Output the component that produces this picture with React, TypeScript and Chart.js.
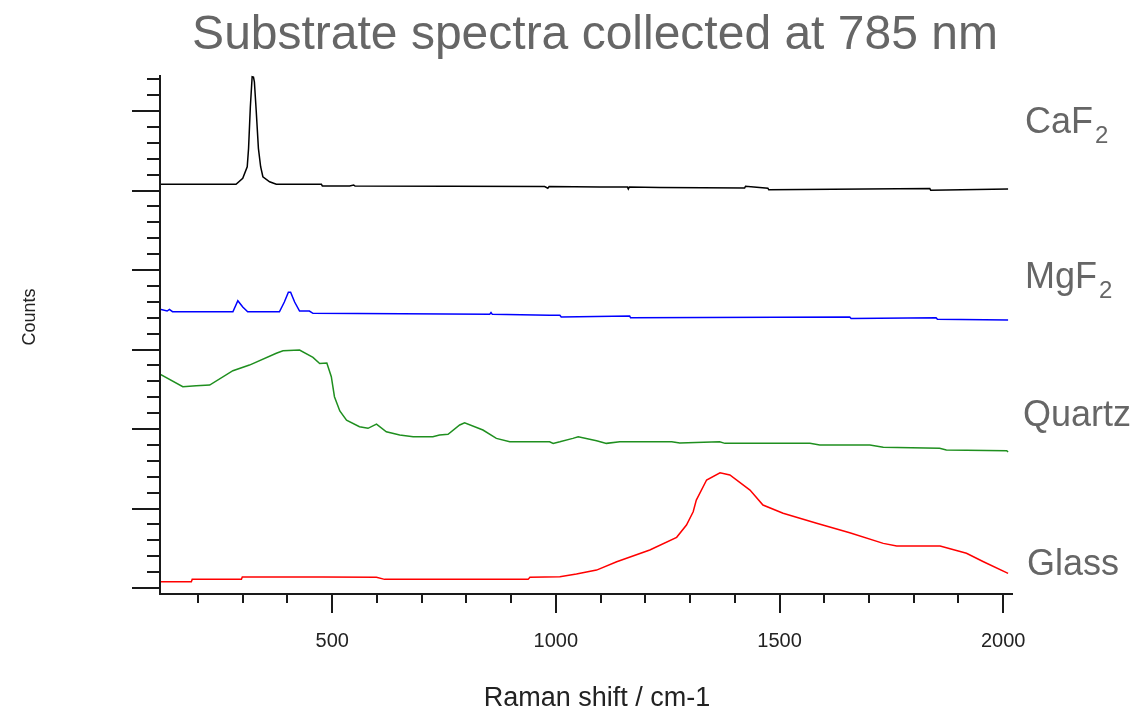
import React, { useEffect, useRef } from "react";
import { Chart, registerables } from "chart.js";

Chart.register(...registerables);

// Raman shift (cm-1) and counts (arbitrary, offset-stacked) per substrate
const caf2X = [115, 285, 300, 310, 313, 317, 321, 324, 326, 330, 335, 340, 345, 360, 375, 476, 478, 539, 548, 551, 975, 982, 985, 1098, 1160, 1162, 1164, 1232, 1422, 1424, 1474, 1476, 1836, 1838, 2011];
const caf2Y = [5079, 5079, 5154, 5300, 5531, 6055, 6432, 6428, 6369, 6013, 5531, 5300, 5174, 5111, 5079, 5079, 5057, 5057, 5070, 5057, 5051, 5030, 5051, 5044, 5044, 5020, 5044, 5038, 5032, 5055, 5030, 5010, 5025, 5005, 5019];

const mgf2X = [115, 131, 136, 143, 278, 289, 300, 311, 382, 393, 402, 407, 416, 427, 449, 457, 852, 855, 858, 986, 1009, 1012, 1165, 1167, 1657, 1660, 1850, 1853, 2011];
const mgf2Y = [3506, 3485, 3504, 3476, 3476, 3614, 3535, 3476, 3476, 3598, 3720, 3720, 3598, 3485, 3485, 3456, 3443, 3465, 3443, 3431, 3431, 3410, 3422, 3400, 3409, 3390, 3400, 3380, 3371];

const quartzX = [115, 166, 196, 226, 278, 315, 375, 390, 427, 457, 472, 488, 498, 505, 517, 532, 561, 580, 599, 621, 651, 681, 725, 740, 759, 785, 796, 837, 867, 897, 986, 994, 1009, 1038, 1050, 1091, 1113, 1143, 1259, 1277, 1366, 1378, 1568, 1590, 1702, 1732, 1858, 1873, 2008, 2011];
const quartzY = [2692, 2532, 2545, 2554, 2734, 2805, 2953, 2985, 2994, 2902, 2824, 2830, 2658, 2407, 2227, 2113, 2029, 2009, 2063, 1966, 1925, 1903, 1903, 1925, 1934, 2051, 2079, 1988, 1883, 1840, 1840, 1820, 1840, 1883, 1903, 1853, 1820, 1840, 1840, 1824, 1840, 1820, 1820, 1799, 1799, 1770, 1757, 1736, 1727, 1711];

const glassX = [115, 185, 187, 297, 299, 479, 599, 617, 938, 942, 1009, 1046, 1091, 1136, 1210, 1270, 1292, 1307, 1314, 1337, 1367, 1389, 1434, 1463, 1508, 1583, 1657, 1732, 1762, 1859, 1918, 1956, 2011];
const glassY = [79, 79, 109, 109, 138, 138, 135, 109, 109, 135, 142, 176, 226, 331, 478, 638, 793, 960, 1107, 1359, 1450, 1422, 1233, 1044, 940, 814, 696, 562, 528, 528, 437, 331, 185];

const seriesNames = ["CaF", "MgF", "Quartz", "Glass"];
const seriesSubs = ["2", "2", "", ""];
const seriesColors = ["#000000", "#0000ff", "#1f8f1f", "#ff0000"];

const xMajorTicks = [500, 1000, 1500, 2000];
const xMinorStep = 100;
const yMajorStep = 1000;
const yMinorStep = 200;

const titleText = "Substrate spectra collected at 785 nm";
const xTitle = "Raman shift / cm-1";
const yTitle = "Counts";

const FONT = "'Liberation Sans', Arial, sans-serif";

const toPoints = (xs: number[], ys: number[]) => xs.map((x, i) => ({ x, y: ys[i] }));

const decorPlugin = {
  id: "decor",
  afterDraw(chart: any) {
    const { ctx, chartArea: a, scales } = chart;
    const xs = scales.x;
    const ys = scales.y;
    ctx.save();
    ctx.strokeStyle = "#1a1a1a";
    ctx.lineWidth = 2;
    ctx.beginPath();
    ctx.moveTo(a.left, a.top);
    ctx.lineTo(a.left, a.bottom);
    ctx.lineTo(a.right, a.bottom);
    for (let v = Math.ceil(xs.min / xMinorStep) * xMinorStep; v <= xs.max; v += xMinorStep) {
      const px = Math.round(xs.getPixelForValue(v));
      const major = xMajorTicks.includes(v);
      ctx.moveTo(px, a.bottom);
      ctx.lineTo(px, a.bottom + (major ? 19 : 9));
    }
    for (let v = Math.ceil(ys.min / yMinorStep) * yMinorStep; v <= ys.max; v += yMinorStep) {
      const py = Math.round(ys.getPixelForValue(v));
      const major = v % yMajorStep === 0;
      ctx.moveTo(a.left, py);
      ctx.lineTo(a.left - (major ? 28 : 13), py);
    }
    ctx.stroke();

    ctx.fillStyle = "#222";
    ctx.font = `20px ${FONT}`;
    ctx.textAlign = "center";
    ctx.textBaseline = "alphabetic";
    for (const v of xMajorTicks) {
      ctx.fillText(String(v), xs.getPixelForValue(v), 647);
    }
    ctx.font = `27px ${FONT}`;
    ctx.fillText(xTitle, 597, 706);
    ctx.save();
    ctx.translate(35, 317);
    ctx.rotate(-Math.PI / 2);
    ctx.font = `18px ${FONT}`;
    ctx.fillText(yTitle, 0, 0);
    ctx.restore();

    ctx.fillStyle = "#666666";
    ctx.font = `48px ${FONT}`;
    ctx.fillText(titleText, 595, 49);

    const lblX = [1025, 1025, 1023, 1027];
    const lblY = [133, 288, 426, 575];
    ctx.textAlign = "left";
    for (let i = 0; i < seriesNames.length; i++) {
      ctx.font = `36px ${FONT}`;
      ctx.fillText(seriesNames[i], lblX[i], lblY[i]);
      if (seriesSubs[i]) {
        const w = ctx.measureText(seriesNames[i]).width;
        ctx.font = `24px ${FONT}`;
        ctx.fillText(seriesSubs[i], lblX[i] + w + 2, lblY[i] + 10);
      }
    }
    ctx.restore();
  },
};

export default function App() {
  const ref = useRef<HTMLCanvasElement | null>(null);
  useEffect(() => {
    document.body.style.margin = "0";
    if (!ref.current) return;
    const series = [
      toPoints(caf2X, caf2Y),
      toPoints(mgf2X, mgf2Y),
      toPoints(quartzX, quartzY),
      toPoints(glassX, glassY),
    ];
    const chart = new Chart(ref.current, {
      type: "line",
      data: {
        datasets: series.map((d, i) => ({
          label: seriesNames[i] + seriesSubs[i],
          data: d,
          borderColor: seriesColors[i],
          backgroundColor: seriesColors[i],
          borderWidth: 1.5,
          pointRadius: 0,
          tension: 0,
          fill: false,
        })),
      },
      options: {
        responsive: false,
        animation: false,
        layout: { padding: { left: 160, top: 75, right: 128, bottom: 117 } },
        scales: {
          x: { type: "linear", min: 115, max: 2022, display: false },
          y: { type: "linear", min: -75, max: 6454, display: false },
        },
        plugins: { legend: { display: false }, tooltip: { enabled: false }, title: { display: false } },
      },
      plugins: [decorPlugin],
    });
    return () => chart.destroy();
  }, []);
  return <canvas ref={ref} width={1141} height={711} style={{ display: "block" }} />;
}
